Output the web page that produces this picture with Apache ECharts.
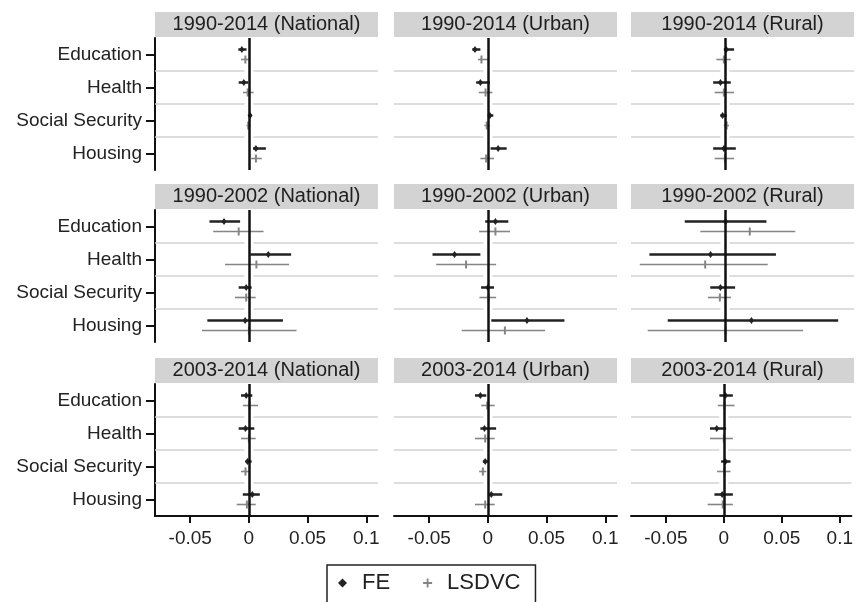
<!DOCTYPE html>
<html>
<head>
<meta charset="utf-8">
<script src="https://cdn.jsdelivr.net/npm/echarts@6/dist/echarts.min.js"></script>
<style>
  html, body { margin: 0; padding: 0; background: #fff; }
  #chart { width: 856px; height: 602px; }
</style>
</head>
<body>
<div id="chart"></div>
<script>
// categories and panel labels
const categories = ['Education', 'Health', 'Social Security', 'Housing'];
const periods = ['1990-2014', '1990-2002', '2003-2014'];
const regions = ['National', 'Urban', 'Rural'];
const xTicks = [-0.05, 0, 0.05, 0.1];

// each row: [estimate, lower, upper] for Education, Health, Social Security, Housing
const fe9014Nat = [[-0.006, -0.009, -0.002], [-0.0043, -0.0087, -0.0006], [0.001, 0, 0.002], [0.006, 0.0035, 0.0145]];
const ls9014Nat = [[-0.003, -0.0067, -0.0003], [-0.001, -0.005, 0.004], [-0.0006, -0.002, 0.0015], [0.006, 0.002, 0.011]];
const fe9014Urb = [[-0.011, -0.0133, -0.0064], [-0.0064, -0.01, 0.0017], [0.0017, 0, 0.0046], [0.0087, 0.0023, 0.016]];
const ls9014Urb = [[-0.0055, -0.0084, 0], [-0.002, -0.0078, 0.0038], [-0.001, -0.003, 0.0017], [-0.0015, -0.0064, 0.0052]];
const fe9014Rur = [[0.0012, -0.0009, 0.0078], [-0.0038, -0.01, 0.005], [-0.002, -0.0038, 0.0015], [-0.0009, -0.01, 0.0093]];
const ls9014Rur = [[-0.0009, -0.0072, 0.005], [-0.0009, -0.0087, 0.0078], [0.0015, -0.0009, 0.0035], [0, -0.0087, 0.0078]];

const fe9002Nat = [[-0.0212, -0.0336, -0.0075], [0.0165, 0.0012, 0.036], [-0.0023, -0.0087, 0.0023], [-0.0032, -0.0354, 0.029]];
const ls9002Nat = [[-0.0087, -0.0304, 0.0125], [0.0064, -0.0203, 0.0342], [-0.0023, -0.0119, 0.0058], [0, -0.04, 0.0406]];
const fe9002Urb = [[0.0064, -0.0023, 0.0174], [-0.0284, -0.0472, -0.0064], [0, -0.0058, 0.0052], [0.0333, 0.0029, 0.0652]];
const ls9002Urb = [[0.0064, -0.0075, 0.0188], [-0.0186, -0.044, 0.007], [0.0006, -0.0072, 0.007], [0.0145, -0.0223, 0.0487]];
const fe9002Rur = [[0.0006, -0.0342, 0.0354], [-0.0122, -0.0643, 0.0435], [-0.0038, -0.0125, 0.0087], [0.0226, -0.0487, 0.0965]];
const ls9002Rur = [[0.0212, -0.0209, 0.06], [-0.0168, -0.0725, 0.0365], [-0.0043, -0.0145, 0.0052], [0.0006, -0.0658, 0.0667]];

const fe0314Nat = [[-0.0023, -0.0067, 0.0029], [-0.0029, -0.0087, 0.0046], [-0.0012, -0.0029, 0.0023], [0.0029, -0.0052, 0.0093]];
const ls0314Nat = [[0.0006, -0.0052, 0.0078], [0, -0.0067, 0.0058], [-0.0029, -0.0067, 0], [-0.0017, -0.0104, 0.0058]];
const fe0314Urb = [[-0.0064, -0.011, -0.0014], [-0.0029, -0.0064, 0.007], [-0.0023, -0.0043, 0], [0.0029, 0, 0.0122]];
const ls0314Urb = [[-0.0006, -0.0058, 0.0058], [-0.0023, -0.011, 0.0058], [-0.0043, -0.0075, -0.0014], [-0.0023, -0.011, 0.0058]];
const fe0314Rur = [[0.0014, -0.0038, 0.0078], [-0.0061, -0.0119, 0.002], [0.0014, -0.0023, 0.0058], [-0.0014, -0.0081, 0.0078]];
const ls0314Rur = [[0.0006, -0.0052, 0.0093], [0, -0.0119, 0.0078], [0.0006, -0.0058, 0.0058], [-0.0009, -0.0139, 0.0078]];

const feData = [
  [fe9014Nat, fe9014Urb, fe9014Rur],
  [fe9002Nat, fe9002Urb, fe9002Rur],
  [fe0314Nat, fe0314Urb, fe0314Rur]
];
const lsData = [
  [ls9014Nat, ls9014Urb, ls9014Rur],
  [ls9002Nat, ls9002Urb, ls9002Rur],
  [ls0314Nat, ls0314Urb, ls0314Rur]
];

// layout
const FONT = 'Liberation Sans, Arial, sans-serif';
const colLeft = [155, 394, 631];
const colW = 223;
const rowTop = [38, 210, 384];
const rowH = 132;
const xMin = -0.08, xMax = 0.11;
const FE_COLOR = '#222222';
const LS_COLOR = '#858585';

const chart = echarts.init(document.getElementById('chart'), null, { renderer: 'canvas' });

function ciItem(isFe) {
  const offset = isFe ? -5 : 5;
  const color = isFe ? FE_COLOR : LS_COLOR;
  return function (params, api) {
    const cat = api.value(1);
    const p = api.coord([api.value(0), cat]);
    const lo = api.coord([api.value(2), cat]);
    const hi = api.coord([api.value(3), cat]);
    const y = p[1] + offset;
    const kids = [{
      type: 'line',
      shape: { x1: lo[0], y1: y, x2: hi[0], y2: y },
      style: { stroke: color, lineWidth: isFe ? 2.5 : 1.6 }
    }];
    if (isFe) {
      kids.push({
        type: 'polygon',
        shape: { points: [[p[0], y - 3.5], [p[0] + 2.5, y], [p[0], y + 3.5], [p[0] - 2.5, y]] },
        style: { fill: color }
      });
    } else {
      kids.push({
        type: 'line',
        shape: { x1: p[0], y1: y - 4, x2: p[0], y2: y + 4 },
        style: { stroke: color, lineWidth: 2 }
      });
    }
    return { type: 'group', children: kids };
  };
}

function sepItem(params, api) {
  const cs = params.coordSys;
  const c = api.coord([0, api.value(1)]);
  const y = c[1] - api.size([0, 1])[1] / 2;
  const st = { stroke: '#d2d2d2', lineWidth: 1.5 };
  return {
    type: 'group',
    children: [
      { type: 'line', shape: { x1: cs.x, y1: y, x2: c[0] - 4.5, y2: y }, style: st },
      { type: 'line', shape: { x1: c[0] + 4.5, y1: y, x2: cs.x + cs.width, y2: y }, style: st }
    ]
  };
}

const grid = [], xAxis = [], yAxis = [], series = [], graphic = [];

for (let r = 0; r < 3; r++) {
  for (let c = 0; c < 3; c++) {
    const idx = r * 3 + c;
    grid.push({ left: colLeft[c], top: rowTop[r], width: colW, height: rowH });

    const bottom = r === 2;
    xAxis.push({
      type: 'value', gridIndex: idx, min: xMin, max: xMax,
      show: bottom,
      axisLine: { show: true, onZero: false, lineStyle: { color: '#111', width: 2 } },
      axisTick: { show: true, length: 7, lineStyle: { color: '#111', width: 2 }, customValues: xTicks },
      axisLabel: {
        show: true, customValues: xTicks, margin: 13,
        fontFamily: FONT, fontSize: 19, color: '#222',
        formatter: v => String(v)
      },
      splitLine: { show: false }
    });

    yAxis.push({
      type: 'category', gridIndex: idx, data: categories, inverse: true,
      show: c === 0,
      axisLine: { show: true, onZero: false, lineStyle: { color: '#111', width: 2 } },
      axisTick: { show: true, alignWithLabel: true, length: 9, lineStyle: { color: '#111', width: 2 } },
      axisLabel: { fontFamily: FONT, fontSize: 19, color: '#222', margin: 13 },
      splitLine: { show: false }
    });

    series.push({
      type: 'custom', name: 'sep', xAxisIndex: idx, yAxisIndex: idx, silent: true, z: 1,
      renderItem: sepItem,
      encode: { x: 0, y: 1 },
      data: categories.slice(1).map(cat => [0, cat])
    });

    series.push({
      type: 'custom', name: 'FE', xAxisIndex: idx, yAxisIndex: idx, z: 3,
      itemStyle: { color: FE_COLOR },
      renderItem: ciItem(true),
      encode: { x: [0, 2, 3], y: 1 },
      data: feData[r][c].map((d, i) => [d[0], categories[i], d[1], d[2]]),
      markLine: {
        silent: true, symbol: 'none', animation: false,
        label: { show: false },
        lineStyle: { color: '#111', width: 2.5, type: 'solid' },
        data: [{ xAxis: 0 }]
      }
    });

    series.push({
      type: 'custom', name: 'LSDVC', xAxisIndex: idx, yAxisIndex: idx, z: 3,
      itemStyle: { color: LS_COLOR },
      renderItem: ciItem(false),
      encode: { x: [0, 2, 3], y: 1 },
      data: lsData[r][c].map((d, i) => [d[0], categories[i], d[1], d[2]])
    });

    // panel header strip
    graphic.push({
      type: 'rect',
      shape: { x: colLeft[c], y: rowTop[r] - 26, width: colW, height: 25 },
      style: { fill: '#d3d3d3' }
    });
    graphic.push({
      type: 'text',
      x: colLeft[c] + colW / 2, y: rowTop[r] - 13.5,
      style: {
        text: periods[r] + ' (' + regions[c] + ')',
        fill: '#1e1e1e', font: '20px ' + FONT,
        textAlign: 'center', textVerticalAlign: 'middle'
      }
    });
  }
}

chart.setOption({
  animation: false,
  backgroundColor: '#fff',
  grid: grid,
  xAxis: xAxis,
  yAxis: yAxis,
  series: series,
  graphic: graphic,
  legend: {
    left: 327, top: 565,
    data: [
      { name: 'FE', icon: 'diamond' },
      { name: 'LSDVC', icon: 'path://M4,0H6V10H4Z M0,4H10V6H0Z' }
    ],
    itemWidth: 9, itemHeight: 9, itemGap: 33,
    borderColor: '#222', borderWidth: 1.5,
    padding: [7, 15, 24, 11],
    textStyle: { fontFamily: FONT, fontSize: 22, color: '#222', padding: [0, 0, 0, 10] }
  }
});
</script>
</body>
</html>
